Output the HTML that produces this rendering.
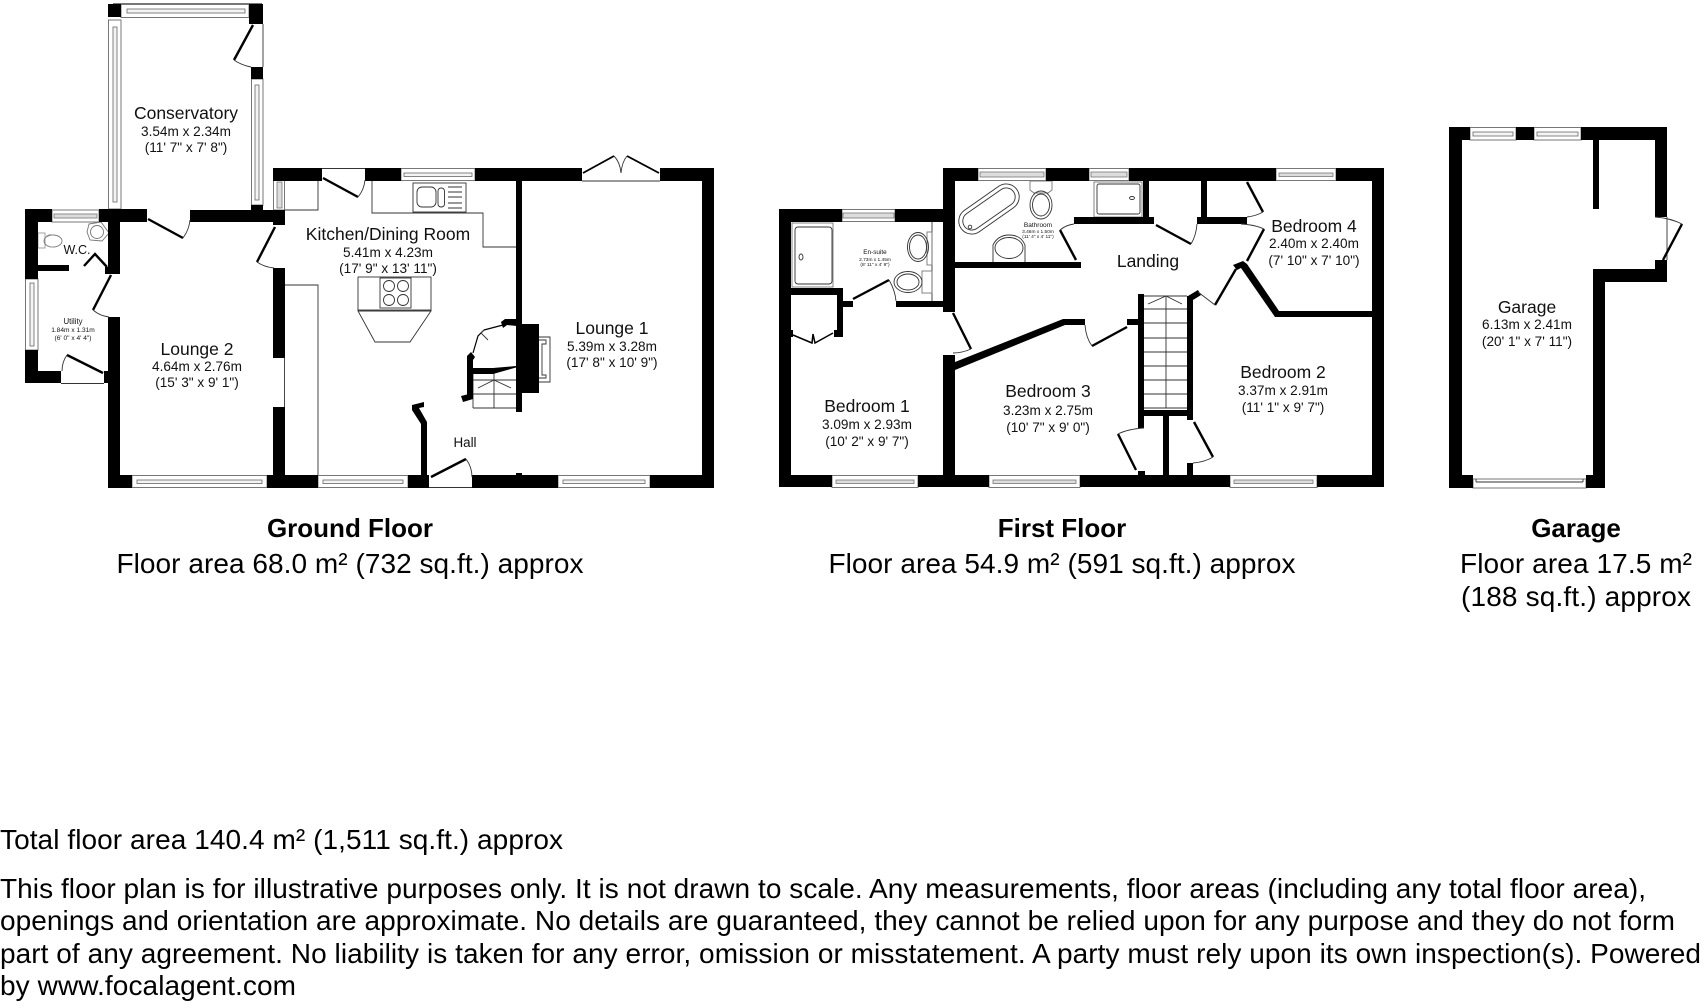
<!DOCTYPE html>
<html><head><meta charset="utf-8"><title>Floor plan</title>
<style>
html,body{margin:0;padding:0;background:#fff}
svg{display:block}
text{font-family:"Liberation Sans",sans-serif;fill:#111}
.t{font-size:17.5px;text-anchor:middle}
.d{font-size:13.6px;text-anchor:middle}
.c{font-size:28px;text-anchor:middle;fill:#000}
.b{font-size:26px;font-weight:bold;text-anchor:middle;fill:#000}
.p{font-size:28px;fill:#000}
.w{fill:#fff;stroke:#777;stroke-width:1}
.i{fill:#ddd;stroke:#777;stroke-width:.8}
.j{fill:#f4f4f4;stroke:#666;stroke-width:.8}
.l{fill:none;stroke:#000;stroke-width:2.4}
.a{fill:none;stroke:#333;stroke-width:.9}
.f{fill:#fff;stroke:#444;stroke-width:1}
</style></head><body>
<svg width="1704" height="1008" viewBox="0 0 1704 1008" xmlns="http://www.w3.org/2000/svg">
<rect width="1704" height="1008" fill="#fff"/>

<!-- GROUND FLOOR windows -->
<g>
<rect class="w" x="121" y="4.5" width="128" height="13"/><rect class="j" x="127" y="9" width="118" height="4"/>
<rect class="w" x="108.5" y="20" width="12.5" height="189"/><rect class="j" x="113" y="27" width="4" height="175"/>
<rect class="w" x="251.5" y="79" width="11.5" height="126"/><rect class="j" x="255" y="85" width="4" height="115"/>
<rect class="w" x="273.5" y="180" width="11" height="30"/><rect class="i" x="277" y="182" width="5" height="26"/>
<rect class="w" x="52" y="210" width="47" height="12"/><rect class="i" x="54" y="214" width="43" height="4"/>
<rect class="w" x="25.5" y="279" width="12.5" height="71"/><rect class="j" x="30" y="283" width="4" height="63"/>
<rect class="w" x="132" y="475.5" width="135" height="12"/><rect class="j" x="137" y="480" width="125" height="3.5"/>
<rect class="w" x="318" y="475.5" width="90" height="12"/><rect class="j" x="323" y="480" width="80" height="3.5"/>
<rect class="w" x="558" y="475.5" width="92" height="12"/><rect class="j" x="563" y="480" width="82" height="3.5"/>
<rect class="w" x="401" y="168.5" width="74" height="12"/><rect class="j" x="404" y="173" width="68" height="3.5"/>
</g>
<!-- GROUND FLOOR fixtures -->
<g class="a" fill="none">
<path d="M263 24V67"/>
<path d="M318 180V210H285"/>
<path d="M285 285H318V475"/>
<path d="M284.5 358V407"/>
<path d="M372 181V213H483V247H516"/>
<path d="M322 168.500H365"/>
<path d="M582 181H660"/>
<path d="M61 383.500H104"/>
<path d="M429 487.500H472"/>
<path d="M113 3.500H262" stroke="#777"/>
<rect x="413" y="183" width="53" height="29"/>
<rect x="417" y="187" width="19" height="20" rx="5"/>
<rect x="438" y="188" width="6.500" height="19" rx="3"/>
<path d="M448 187H462M448 192H462M448 197H462M448 203H462M448 208H462"/>
<rect x="358" y="277" width="73" height="33"/>
<path d="M358 311H431L410 342H375Z"/>
<rect x="380" y="278" width="31" height="30"/>
<circle cx="389" cy="286" r="5.500"/><circle cx="403" cy="286" r="5.500"/>
<circle cx="389" cy="300" r="5.500"/><circle cx="403" cy="300" r="5.500"/>
<path d="M473 380H516M473 394H516M473 408H516M494 368V408M473 374V408"/>
<path d="M478 388L494 380L511 388"/>
<path d="M539 337H550V382H539"/>
<path d="M539 340H546V344H542V375H546V378H539"/>
<rect x="38" y="233" width="7" height="15" stroke="#999"/>
<ellipse cx="53" cy="241" rx="9" ry="6" stroke="#777"/>
<path d="M46 237Q48 234 53 235M46 245Q48 247 53 247" stroke="#999"/>
<path d="M89 224L101 222L109 233L102 241L90 240L87 232Z" stroke="#777"/>
<circle cx="97" cy="232" r="6.500" stroke="#777"/>
</g>
<!-- GROUND FLOOR walls -->
<g fill="#000">
<rect x="108" y="4" width="13" height="13"/>
<rect x="249" y="4" width="14" height="20"/>
<rect x="251" y="67" width="12" height="12"/>
<rect x="251" y="205" width="12" height="5"/>
<rect x="25" y="209" width="27" height="13"/>
<rect x="99" y="209" width="48" height="13"/>
<rect x="190" y="210" width="95" height="12"/>
<rect x="273" y="210" width="12" height="15"/>
<rect x="273" y="168" width="49" height="13"/>
<rect x="365" y="168" width="36" height="13"/>
<rect x="475" y="168" width="107" height="13"/>
<rect x="660" y="168" width="54" height="13"/>
<rect x="702" y="168" width="12" height="320"/>
<rect x="516" y="181" width="6" height="231"/>
<rect x="516" y="324" width="23" height="69"/>
<rect x="25" y="209" width="13" height="70"/>
<rect x="25" y="350" width="13" height="33"/>
<rect x="25" y="371" width="36" height="12"/>
<rect x="104" y="371" width="4" height="12"/>
<rect x="38" y="265" width="31" height="6"/>
<rect x="108" y="209" width="12" height="65"/>
<rect x="105" y="267" width="15" height="7"/>
<rect x="108" y="317" width="12" height="171"/>
<rect x="108" y="475" width="24" height="13"/>
<rect x="267" y="475" width="51" height="13"/>
<rect x="273" y="268" width="12" height="90"/>
<rect x="273" y="407" width="12" height="68"/>
<rect x="408" y="475" width="21" height="13"/>
<rect x="472" y="475" width="86" height="13"/>
<rect x="650" y="475" width="64" height="13"/>
<rect x="516" y="473" width="6" height="3"/>
<path d="M501 322L505 319L517 319V326L507 325L503 328Z"/>
<path d="M467 356L471 352L475 357L473 360V395H467Z"/>
<path d="M461 396L473 393V399L463 402Z"/>
<path d="M473 368H493L516 366V367.500L493 374H473Z"/>
<path d="M412 405L424 402V407L419 408L427 422V475H421V424L412 410Z"/>
</g>
<!-- GROUND FLOOR doors -->
<g>
<path class="l" d="M253 25L234 60"/><path class="a" d="M234 60Q241 65 251 67"/>
<path class="l" d="M148 219L183 238"/><path class="a" d="M183 238Q189 230 190 220"/>
<path class="l" d="M275 227L257 262"/><path class="a" d="M257 262Q264 267 274 268"/>
<path class="l" d="M111 275L93 310"/><path class="a" d="M93 310Q100 316 109 317"/>
<path class="l" d="M103 373L67 355"/><path class="a" d="M67 355Q62 362 62 371"/>
<path class="l" d="M84 266L95 254L107 267"/>
<path class="l" d="M323 178L358 197"/><path class="a" d="M358 197Q364 190 365 180"/>
<path class="l" d="M431 477L466 459"/><path class="a" d="M466 459Q472 467 472 477"/>
<path d="M583 173L614 156" class="l" style="stroke-width:1.800"/><path class="a" d="M614 156Q620 162 621 173"/>
<path d="M659 173L627 156" class="l" style="stroke-width:1.800"/><path class="a" d="M627 156Q622 162 621 173"/>
<path class="l" style="stroke-width:1.200" d="M503 325L484 330M484 330L478 336L473 353"/><path class="a" d="M484 330L481 333L488 340"/>
</g>

<!-- FIRST FLOOR windows -->
<g>
<rect class="w" x="842" y="209.500" width="53" height="12"/><rect class="i" x="843" y="213" width="51" height="5"/>
<rect class="w" x="978" y="168.500" width="68" height="12"/><rect class="i" x="980" y="172" width="64" height="5"/>
<rect class="w" x="1089" y="168.500" width="40" height="12"/><rect class="i" x="1091" y="172" width="36" height="5"/>
<rect class="w" x="1276" y="168.500" width="60" height="12"/><rect class="i" x="1279" y="173" width="54" height="3.500"/>
<rect class="w" x="832" y="475.500" width="86" height="12"/><rect class="i" x="836" y="480" width="78" height="3.500"/>
<rect class="w" x="989" y="475.500" width="91" height="12"/><rect class="i" x="993" y="480" width="83" height="3.500"/>
<rect class="w" x="1230" y="475.500" width="87" height="12"/><rect class="i" x="1234" y="480" width="79" height="3.500"/>
</g>
<!-- FIRST FLOOR fixtures -->
<g class="a" fill="none">
<rect x="792" y="223" width="41" height="64" stroke="#777"/>
<rect x="795" y="227" width="37" height="57" rx="3"/>
<ellipse cx="801" cy="257" rx="2" ry="3"/>
<path d="M932 222V301"/>
<rect x="927" y="232" width="5" height="33" stroke="#777"/>
<ellipse cx="918" cy="247" rx="10.500" ry="14.500"/><ellipse cx="918" cy="247" rx="8.500" ry="12"/>
<rect x="922" y="271" width="10" height="22" stroke="#777"/>
<ellipse cx="908" cy="282" rx="14" ry="10.500"/><ellipse cx="908" cy="282" rx="11" ry="8"/>
<g transform="rotate(-35 989 209)"><rect x="955" y="196" width="68" height="26" rx="13"/><rect x="959" y="200" width="60" height="18" rx="9"/></g>
<circle cx="970" cy="227" r="1.800"/>
<path d="M1030 181H1052V190L1048 193H1034L1030 190Z" stroke="#777"/>
<ellipse cx="1041" cy="205" rx="11" ry="14"/><ellipse cx="1041" cy="205" rx="8.500" ry="11"/>
<path d="M993 262V245Q998 235 1009 235Q1021 235 1025 245V262"/>
<ellipse cx="1009" cy="248" rx="14" ry="10.500"/>
<rect x="1094" y="182" width="48" height="35" stroke="#777"/>
<rect x="1097" y="184" width="43" height="30" rx="2"/>
<ellipse cx="1132" cy="198" rx="2.500" ry="1.500"/>
<path d="M1144 296H1187M1144 309H1187M1144 323H1187M1144 338H1187M1144 352H1187M1144 366H1187M1144 380H1187M1144 394H1187M1144 408H1187M1166 296V408"/>
<path d="M1148 304L1166 296L1182 304"/>
</g>
<!-- FIRST FLOOR walls -->
<g fill="#000">
<rect x="779" y="209" width="63" height="13"/>
<rect x="895" y="209" width="48" height="13"/>
<rect x="779" y="209" width="12" height="278"/>
<rect x="943" y="168" width="12" height="144"/>
<rect x="943" y="355" width="12" height="120"/>
<rect x="943" y="168" width="35" height="13"/>
<rect x="1046" y="168" width="43" height="13"/>
<rect x="1129" y="168" width="147" height="13"/>
<rect x="1336" y="168" width="48" height="13"/>
<rect x="1372" y="168" width="12" height="319"/>
<rect x="779" y="475" width="53" height="12"/>
<rect x="918" y="475" width="71" height="12"/>
<rect x="1080" y="475" width="150" height="12"/>
<rect x="1317" y="475" width="67" height="12"/>
<rect x="955" y="262" width="126" height="6"/>
<rect x="896" y="301" width="47" height="6"/>
<rect x="843" y="301" width="10" height="6"/>
<rect x="791" y="288" width="52" height="7"/>
<rect x="837" y="288" width="6" height="49"/>
<rect x="834" y="330" width="9" height="7"/>
<rect x="791" y="330" width="2" height="7"/>
<rect x="1074" y="217" width="80" height="7"/>
<rect x="1143" y="181" width="6" height="36"/>
<rect x="1197" y="217" width="50" height="7"/>
<rect x="1201" y="181" width="6" height="36"/>
<path d="M955 362L1063 319H1085V325L1065 325L955 370Z"/>
<rect x="1127" y="319" width="17" height="6"/>
<rect x="1138" y="294" width="6" height="134"/>
<rect x="1187" y="296" width="6" height="124"/>
<rect x="1144" y="410" width="43" height="6"/>
<rect x="1163" y="416" width="6" height="59"/>
<rect x="1138" y="471" width="7" height="4"/>
<rect x="1187" y="463" width="6" height="12"/>
<path d="M1188 296L1198 290L1201 295L1193 300Z"/>
<path d="M1233 265L1243 261L1247 264L1279 311H1372V317H1275L1241 268L1237 270Z"/>
</g>
<!-- FIRST FLOOR doors -->
<g>
<path class="l" d="M953 313L971 349"/><path class="a" d="M971 349Q962 353 953 353"/>
<path class="l" d="M889 280L853 299"/><path class="a" d="M889 280Q895 290 896 301"/>
<path class="l" d="M1060 230L1076 260"/><path class="a" d="M1060 230Q1066 225 1074 224"/>
<path class="l" d="M1156 225L1191 244"/><path class="a" d="M1191 244Q1196 236 1197 224"/>
<path class="l" d="M1247 182L1263 212"/><path class="a" d="M1263 212Q1256 216 1247 217"/>
<path class="l" d="M1247 261L1264 229"/><path class="a" d="M1264 229Q1256 225 1241 224"/>
<path class="l" d="M1236 269L1215 305"/><path class="a" d="M1215 305L1198 292"/>
<path class="l" d="M1092 346L1127 327"/><path class="a" d="M1085 325Q1086 338 1092 346"/>
<path class="l" d="M1118 434L1136 470"/><path class="a" d="M1118 434Q1128 429 1144 428"/>
<path class="l" d="M1194 422L1213 457"/><path class="a" d="M1213 457Q1205 462 1193 463"/>
<path class="l" style="stroke-width:1.500" d="M793 335L812 343L813 334L815 343L833 333"/>
</g>

<!-- GARAGE -->
<g>
<rect class="w" x="1470" y="127.500" width="46" height="12.500"/><rect class="j" x="1473" y="132" width="40" height="4"/>
<rect class="w" x="1534" y="127.500" width="47" height="12.500"/><rect class="j" x="1537" y="132" width="41" height="4"/>
<rect class="w" x="1473" y="479" width="113" height="9"/><path class="a" d="M1476 482H1583M1476 479V482M1583 479V482"/>
<path class="a" d="M1667 217V260"/>
</g>
<g fill="#000">
<rect x="1449" y="127" width="13" height="361"/>
<rect x="1449" y="127" width="21" height="13"/>
<rect x="1516" y="127" width="18" height="13"/>
<rect x="1581" y="127" width="86" height="13"/>
<rect x="1655" y="127" width="12" height="90"/>
<rect x="1655" y="260" width="12" height="22"/>
<rect x="1593" y="269" width="74" height="13"/>
<rect x="1593" y="269" width="12" height="219"/>
<rect x="1449" y="475" width="24" height="13"/>
<rect x="1586" y="475" width="19" height="13"/>
<rect x="1593" y="140" width="6" height="69"/>
</g>
<path class="l" d="M1663 260L1682 224"/><path class="a" d="M1682 224Q1670 218 1655 217"/>

<!-- ROOM LABELS -->
<text class="t" x="186" y="119">Conservatory</text>
<text class="d" x="186" y="136">3.54m x 2.34m</text>
<text class="d" x="186" y="152">(11' 7" x 7' 8")</text>
<text class="t" x="197" y="355">Lounge 2</text>
<text class="d" x="197" y="371">4.64m x 2.76m</text>
<text class="d" x="197" y="387">(15' 3" x 9' 1")</text>
<text x="77" y="254" font-size="12.500" text-anchor="middle">W.C.</text>
<text x="73" y="324" font-size="7.800" text-anchor="middle">Utility</text>
<text x="73" y="332" font-size="6.600" text-anchor="middle">1.84m x 1.31m</text>
<text x="73" y="340" font-size="6.600" text-anchor="middle">(6' 0" x 4' 4")</text>
<text class="t" x="388" y="240">Kitchen/Dining Room</text>
<text class="d" x="388" y="257">5.41m x 4.23m</text>
<text class="d" x="388" y="273">(17' 9" x 13' 11")</text>
<text class="t" x="612" y="334">Lounge 1</text>
<text class="d" x="612" y="351">5.39m x 3.28m</text>
<text class="d" x="612" y="367">(17' 8" x 10' 9")</text>
<text x="465" y="447" font-size="13.400" text-anchor="middle">Hall</text>

<text class="t" x="867" y="412">Bedroom 1</text>
<text class="d" x="867" y="429">3.09m x 2.93m</text>
<text class="d" x="867" y="446">(10' 2" x 9' 7")</text>
<text x="875" y="254" font-size="6.400" text-anchor="middle">En-suite</text>
<text x="875" y="261" font-size="4.800" text-anchor="middle">2.73m x 1.45m</text>
<text x="875" y="266" font-size="4.800" text-anchor="middle">(8' 11" x 4' 9")</text>
<text x="1038" y="227" font-size="6.500" text-anchor="middle">Bathroom</text>
<text x="1038" y="233" font-size="4.800" text-anchor="middle">3.46m x 1.50m</text>
<text x="1038" y="238" font-size="4.800" text-anchor="middle">(11' 4" x 4' 11")</text>
<text class="t" x="1148" y="267">Landing</text>
<text class="t" x="1048" y="397">Bedroom 3</text>
<text class="d" x="1048" y="415">3.23m x 2.75m</text>
<text class="d" x="1048" y="432">(10' 7" x 9' 0")</text>
<text class="t" x="1283" y="378">Bedroom 2</text>
<text class="d" x="1283" y="395">3.37m x 2.91m</text>
<text class="d" x="1283" y="412">(11' 1" x 9' 7")</text>
<text class="t" x="1314" y="232">Bedroom 4</text>
<text class="d" x="1314" y="248">2.40m x 2.40m</text>
<text class="d" x="1314" y="265">(7' 10" x 7' 10")</text>
<text class="t" x="1527" y="313">Garage</text>
<text class="d" x="1527" y="329">6.13m x 2.41m</text>
<text class="d" x="1527" y="346">(20' 1" x 7' 11")</text>

<!-- CAPTIONS -->
<text class="b" x="350" y="537">Ground Floor</text>
<text class="c" x="350" y="573" textLength="467">Floor area 68.0 m² (732 sq.ft.) approx</text>
<text class="b" x="1062" y="537">First Floor</text>
<text class="c" x="1062" y="573" textLength="467">Floor area 54.9 m² (591 sq.ft.) approx</text>
<text class="b" x="1576" y="537">Garage</text>
<text class="c" x="1576" y="573" textLength="232">Floor area 17.5 m²</text>
<text class="c" x="1576" y="606" textLength="230">(188 sq.ft.) approx</text>
<text class="p" x="0" y="849" textLength="563">Total floor area 140.4 m² (1,511 sq.ft.) approx</text>
<text class="p" x="0" y="898" textLength="1646">This floor plan is for illustrative purposes only. It is not drawn to scale. Any measurements, floor areas (including any total floor area),</text>
<text class="p" x="0" y="930" textLength="1675">openings and orientation are approximate. No details are guaranteed, they cannot be relied upon for any purpose and they do not form</text>
<text class="p" x="0" y="963" textLength="1701">part of any agreement. No liability is taken for any error, omission or misstatement. A party must rely upon its own inspection(s). Powered</text>
<text class="p" x="0" y="995" textLength="296">by www.focalagent.com</text>
</svg>
</body></html>
